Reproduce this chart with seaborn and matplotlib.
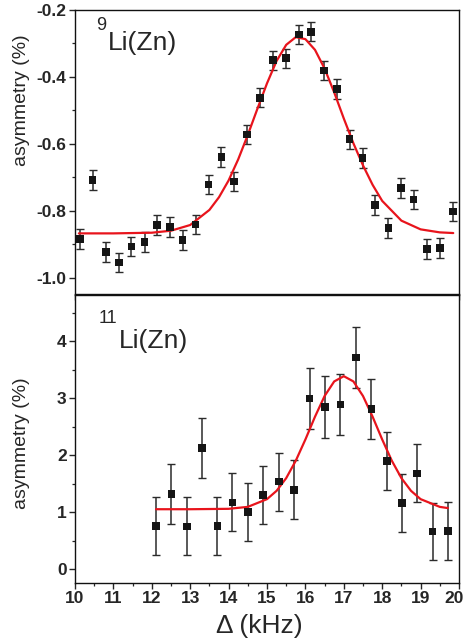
import numpy as np
import pandas as pd
import matplotlib
matplotlib.use("Agg")
import matplotlib.pyplot as plt
import matplotlib.transforms as mtransforms
from matplotlib.ticker import MultipleLocator, FormatStrFormatter, FuncFormatter
import seaborn as sns

# ── Data: 9Li(Zn) ───────────────────────────────────
li9_freq = [10.13, 10.46, 10.80, 11.14, 11.47, 11.81, 12.14, 12.47, 12.80, 13.14,
            13.48, 13.81, 14.14, 14.48, 14.81, 15.15, 15.49, 15.83, 16.15, 16.48,
            16.82, 17.15, 17.49, 17.82, 18.16, 18.49, 18.82, 19.16, 19.50, 19.84]
li9_asym = [-0.884, -0.707, -0.923, -0.954, -0.906, -0.893, -0.842, -0.848, -0.887, -0.840,
            -0.721, -0.639, -0.712, -0.572, -0.462, -0.350, -0.344, -0.273, -0.265, -0.381,
            -0.436, -0.586, -0.642, -0.782, -0.851, -0.732, -0.766, -0.914, -0.911, -0.802]
li9_err = [0.029] * 30

li9_fit_freq = [10.1, 11.0, 12.0, 12.5, 13.0, 13.5, 13.75, 14.0, 14.25, 14.5,
                14.75, 15.0, 15.25, 15.5, 15.75, 16.0, 16.25, 16.5, 16.75, 17.0,
                17.25, 17.5, 17.75, 18.0, 18.5, 19.0, 19.5, 19.85]
li9_fit_asym = [-0.867, -0.867, -0.865, -0.859, -0.842, -0.797, -0.759, -0.709, -0.646, -0.573,
                -0.495, -0.419, -0.352, -0.304, -0.281, -0.287, -0.319, -0.375, -0.446, -0.524,
                -0.598, -0.664, -0.722, -0.770, -0.829, -0.855, -0.864, -0.866]

# ── Data: 11Li(Zn) ──────────────────────────────────
li11_freq = [12.11, 12.51, 12.91, 13.31, 13.71, 14.10, 14.51, 14.90, 15.31, 15.71,
             16.11, 16.51, 16.91, 17.31, 17.72, 18.12, 18.52, 18.91, 19.31, 19.71]
li11_asym = [0.756, 1.318, 0.750, 2.126, 0.756, 1.17, 1.00, 1.30, 1.535, 1.39,
             2.99, 2.84, 2.89, 3.71, 2.81, 1.90, 1.16, 1.68, 0.66, 0.67]
li11_err = [0.51, 0.52, 0.51, 0.53, 0.51, 0.51, 0.51, 0.51, 0.51, 0.52,
            0.53, 0.54, 0.54, 0.54, 0.53, 0.51, 0.51, 0.51, 0.50, 0.51]

li11_fit_freq = [12.11, 13.0, 14.0, 14.5, 15.0, 15.25, 15.5, 15.75, 16.0, 16.25,
                 16.5, 16.75, 17.0, 17.25, 17.5, 17.75, 18.0, 18.25, 18.5, 18.75,
                 19.0, 19.5, 19.71]
li11_fit_asym = [1.05, 1.05, 1.057, 1.091, 1.227, 1.373, 1.596, 1.902, 2.274, 2.674,
                 3.037, 3.293, 3.385, 3.293, 3.037, 2.674, 2.274, 1.902, 1.596, 1.373,
                 1.227, 1.091, 1.070]

sns.set_style("ticks")
plt.rcParams["font.family"] = ["Liberation Sans Narrow", "Liberation Sans", "DejaVu Sans"]
plt.rcParams["axes.unicode_minus"] = False

W, H = 467, 641
fig = plt.figure(figsize=(W / 100, H / 100), dpi=100)


def px_box(left, top, right, bottom):
    return [left / W, 1 - bottom / H, (right - left) / W, (bottom - top) / H]


ax_top = fig.add_axes(px_box(75, 10, 459, 294))
ax_bot = fig.add_axes(px_box(75, 295, 459, 583))

RED = "#e8141c"
TICK_FS = 12.5


def draw_panel(ax, freq, asym, err, fit_x, fit_y):
    ax.errorbar(freq, asym, yerr=err, fmt="none", ecolor="#2b2b2b",
                elinewidth=1.1, capsize=2.6, capthick=1.0, zorder=2)
    sns.lineplot(x=fit_x, y=fit_y, color=RED, lw=1.6, ax=ax, zorder=3, sort=False)
    sns.scatterplot(x=freq, y=asym, marker="s", s=30, color="#151515",
                    edgecolor="none", ax=ax, zorder=4)
    ax.set_xlim(10, 20)
    ax.xaxis.set_major_locator(MultipleLocator(1))
    ax.xaxis.set_minor_locator(MultipleLocator(0.5))
    ax.tick_params(which="major", direction="out", length=4.5, width=1.0,
                   labelsize=TICK_FS, pad=1.5)
    ax.tick_params(which="minor", direction="out", length=2.5, width=0.9)
    for side in ["left", "right", "top", "bottom"]:
        ax.spines[side].set_visible(True)
        ax.spines[side].set_linewidth(1.0)
        ax.spines[side].set_color("#111111")
    ax.set_xlabel("")
    ax.set_ylabel("")


draw_panel(ax_top, li9_freq, li9_asym, li9_err, li9_fit_freq, li9_fit_asym)
draw_panel(ax_bot, li11_freq, li11_asym, li11_err, li11_fit_freq, li11_fit_asym)

ax_top.set_ylim(-1.048, -0.2)
ax_top.yaxis.set_major_locator(MultipleLocator(0.2))
ax_top.yaxis.set_minor_locator(MultipleLocator(0.1))
ax_top.yaxis.set_major_formatter(FormatStrFormatter("%.1f"))
ax_top.tick_params(axis="x", labelbottom=False)

ax_bot.set_ylim(-0.245, 4.81)
ax_bot.yaxis.set_major_locator(MultipleLocator(1))
ax_bot.yaxis.set_minor_locator(MultipleLocator(0.5))
# last label ("20") is drawn separately so it stays inside the figure
ax_bot.xaxis.set_major_formatter(FuncFormatter(lambda v, p: "" if v >= 19.99 else f"{v:.0f}"))

fig.canvas.draw()
for ax in (ax_top, ax_bot):
    for lab in ax.get_xticklabels() + ax.get_yticklabels():
        lab.set_fontweight("bold")

shift = mtransforms.ScaledTranslation(-5 / 100, -6 / 72, fig.dpi_scale_trans)
ax_bot.text(20, 0, "20", transform=ax_bot.get_xaxis_transform() + shift,
            ha="center", va="top", fontsize=TICK_FS, fontweight="bold")

# ── Labels ──────────────────────────────────────────
def fy(py):
    return 1 - py / H


fig.text(96 / W, fy(30), "9", fontsize=13, family=["Liberation Sans", "DejaVu Sans"])
fig.text(108 / W, fy(50), "Li(Zn)", fontsize=19, family=["Liberation Sans", "DejaVu Sans"])
fig.text(99 / W, fy(323), "11", fontsize=13, family=["Liberation Sans", "DejaVu Sans"])
fig.text(119 / W, fy(348), "Li(Zn)", fontsize=19, family=["Liberation Sans", "DejaVu Sans"])

fig.text(22 / W, fy(100), "asymmetry (%)", rotation=90, ha="center", va="center",
         fontsize=14, family=["Liberation Sans", "DejaVu Sans"])
fig.text(22 / W, fy(443), "asymmetry (%)", rotation=90, ha="center", va="center",
         fontsize=14, family=["Liberation Sans", "DejaVu Sans"])
fig.text(259 / W, fy(626), "Δ (kHz)", ha="center", va="center",
         fontsize=19, family=["Liberation Sans", "DejaVu Sans"])

fig.savefig("out.png", dpi=100)
